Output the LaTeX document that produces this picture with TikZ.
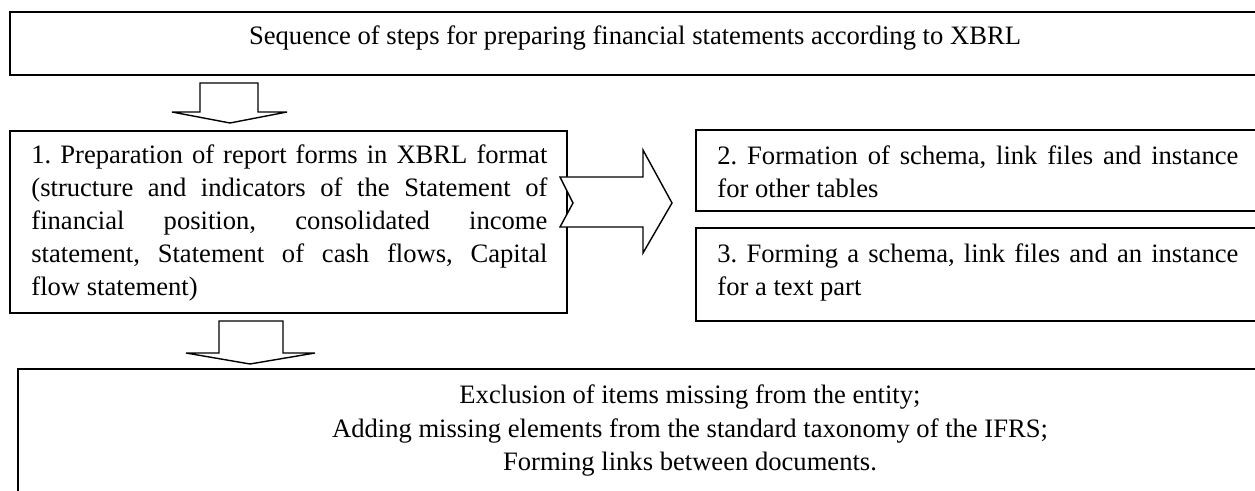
\documentclass[tikz,border=0pt]{standalone}
\usepackage{fontspec}
\setmainfont{Liberation Serif}
\frenchspacing
\begin{document}
\begin{tikzpicture}[x=0.5pt,y=-0.5pt,
  boxline/.style={draw=black,line width=1pt},
  blockarrow/.style={draw=black,fill=white,line width=0.7pt,line join=miter},
  txt/.style={inner sep=0pt,font=\fontsize{13.3}{16.5}\selectfont},
  jtxt/.style={txt,anchor=base west,align=justify}]
\useasboundingbox (0,0) rectangle (1255,491);
\fill[white] (0,0) rectangle (1255,491);
\clip (0,0) rectangle (1255,491);
% top box
\draw[boxline] (10,12) rectangle (1260,75);
\node[txt,anchor=base] (top) at (635,45) {Sequence of steps for preparing financial statements according to XBRL};
% box 1
\draw[boxline] (10,131) rectangle (567,313);
\node[jtxt,text width=258pt] (one) at (31,164) {1. Preparation of report forms in XBRL format\linebreak (structure and indicators of the Statement of\linebreak financial position, consolidated income\linebreak statement, Statement of cash flows, Capital\linebreak flow statement)};
% box 2
\draw[boxline] (696,130) rectangle (1258,211);
\node[jtxt,text width=260.5pt] (two) at (717,165) {2. Formation of schema, link files and instance\linebreak for other tables};
% box 3
\draw[boxline] (696,228) rectangle (1258,321);
\node[jtxt,text width=260.5pt] (three) at (717,263) {3. Forming a schema, link files and an instance\linebreak for a text part};
% bottom box
\draw[boxline] (18,369) rectangle (1300,560);
\node[txt,anchor=base] (b1) at (690,404) {Exclusion of items missing from the entity;};
\node[txt,anchor=base] (b2) at (690,437.5) {Adding missing elements from the standard taxonomy of the IFRS;};
\node[txt,anchor=base] (b3) at (690,471) {Forming links between documents.};
% block arrows
\draw[blockarrow] (200,83) -- (258,83) -- (258,112) -- (287,112) -- (230,123) -- (172,112) -- (200,112) -- cycle;
\draw[blockarrow] (219,321) -- (283,321) -- (283,353) -- (315,353) -- (250,364) -- (186,353) -- (219,353) -- cycle;
\draw[blockarrow] (560,177) -- (643,177) -- (643,150) -- (672,203) -- (643,253) -- (643,227) -- (560,227) -- (573,203) -- cycle;
\end{tikzpicture}
\end{document}
